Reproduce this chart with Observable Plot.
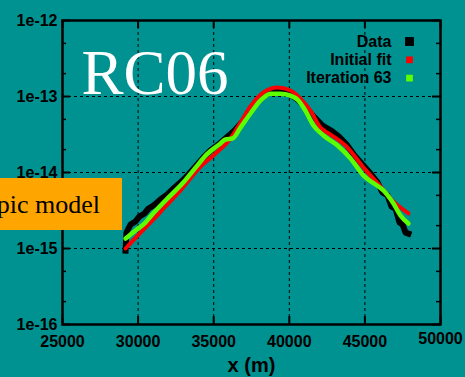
<!DOCTYPE html>
<html>
<head>
<meta charset="utf-8">
<script src="https://cdn.jsdelivr.net/npm/d3@7"></script>
<script src="https://cdn.jsdelivr.net/npm/@observablehq/plot@0.6"></script>
<style>
  html, body { margin: 0; padding: 0; background: #009191; }
</style>
</head>
<body>
<div id="chart"></div>
<script>
// ---- data ----
const dataX = [29170, 29230, 29500, 29830, 30090, 30420, 30690, 31020, 31480, 31940, 32410, 32870, 33330, 33800, 34260, 34790, 35320, 35850, 36380, 36910, 37430, 37960, 38490, 39020, 39550, 40080, 40610, 41140, 41670, 42200, 42730, 43250, 43780, 44310, 44840, 45370, 45830, 46160, 46500, 46760, 47020, 47290, 47490, 47690, 47880];
const dataY = [9.4e-16, 1.62e-15, 2.07e-15, 2.27e-15, 2.64e-15, 2.89e-15, 3.36e-15, 3.68e-15, 4.41e-15, 5.14e-15, 6.35e-15, 7.6e-15, 9.4e-15, 1.2e-14, 1.53e-14, 1.95e-14, 2.34e-14, 2.89e-14, 3.57e-14, 4.69e-14, 6.5e-14, 8.9e-14, 1.09e-13, 1.2e-13, 1.16e-13, 1.06e-13, 8.9e-14, 6.95e-14, 5.3e-14, 4.15e-14, 3.6e-14, 3.0e-14, 2.35e-14, 1.67e-14, 1.27e-14, 9.7e-15, 7.4e-15, 5.46e-15, 4.98e-15, 3.57e-15, 3.36e-15, 2.2e-15, 2.07e-15, 1.62e-15, 1.57e-15];

const fitX = [29170, 30160, 30820, 31810, 32800, 34130, 35120, 36110, 36770, 37430, 38290, 39220, 40080, 40740, 41400, 42060, 42730, 43850, 44910, 46030, 46690, 47880];
const fitY = [1.0e-15, 1.62e-15, 2.2e-15, 3.57e-15, 5.8e-15, 1.2e-14, 1.78e-14, 2.8e-14, 4.55e-14, 7.4e-14, 1.13e-13, 1.31e-13, 1.2e-13, 9.4e-14, 6.5e-14, 3.9e-14, 3.16e-14, 2.13e-14, 1.16e-14, 6.55e-15, 4.55e-15, 2.89e-15];

const iterX = [29170, 29830, 30490, 30820, 31810, 32940, 33800, 34460, 35450, 35780, 36240, 36770, 37430, 38100, 38760, 39420, 40080, 40540, 41070, 41600, 42260, 43190, 44050, 44910, 45700, 46230, 46890, 47350, 47880];
const iterY = [1.35e-15, 1.73e-15, 2.2e-15, 2.64e-15, 4.28e-15, 7.2e-15, 1.16e-14, 1.67e-14, 2.41e-14, 2.72e-14, 2.8e-14, 3.9e-14, 5.98e-14, 8.9e-14, 1.09e-13, 1.09e-13, 1.03e-13, 9.1e-14, 6.5e-14, 4.15e-14, 3.07e-14, 2.27e-14, 1.53e-14, 9.1e-15, 6.95e-15, 5.8e-15, 3.9e-15, 2.72e-15, 2.13e-15];

const xTicks = [25000, 30000, 35000, 40000, 45000, 50000];
const xGrid = [30000, 35000, 40000, 45000];
const yTicks = [1e-16, 1e-15, 1e-14, 1e-13, 1e-12];
const yGrid = [1e-15, 1e-14, 1e-13];
const yMinor = [2e-16, 5e-16, 2e-15, 5e-15, 2e-14, 5e-14, 2e-13, 5e-13];
const legendLabels = ["Data", "Initial fit", "Iteration 63"];
const seriesColors = ["#000000", "#ff0000", "#5cff00"];
const titleText = "RC06";
const xLabel = "x (m)";
const boxText = "pic model";

// ---- layout ----
const W = 465, H = 377;
const mL = 62, mR = 25, mT = 20, mB = 53;
const fw = W - mL - mR, fh = H - mT - mB;
const sans = "'Liberation Sans', Arial, Helvetica, sans-serif";
const serif = "'Liberation Serif', 'Times New Roman', serif";

const toRows = (xs, ys) => xs.map((x, i) => ({x, y: ys[i]}));
const data = toRows(dataX, dataY);
const fit = toRows(fitX, fitY);
const iter = toRows(iterX, iterY);

const legendMarks = legendLabels.flatMap((label, i) => [
  Plot.text([label], {frameAnchor: "top-right", dx: -49, dy: 21 + i * 18.3, textAnchor: "end", lineAnchor: "middle", fontSize: 16, fontWeight: "bold", fill: "black"}),
  Plot.dot([label], {frameAnchor: "top-right", dx: -31, dy: 21 + i * 18.3, symbol: "square", r: i === 0 ? 5 : 3.8, fill: seriesColors[i], stroke: "none"})
]);

const lastX = xTicks[xTicks.length - 1];

const chart = Plot.plot({
  width: W, height: H,
  marginLeft: mL, marginRight: mR, marginTop: mT, marginBottom: mB,
  style: {background: "#009191", fontFamily: sans, fontWeight: "bold", fontSize: "16px", color: "black", overflow: "visible"},
  x: {domain: [25000, 50000]},
  y: {type: "log", domain: [1e-16, 1e-12]},
  marks: [
    Plot.ruleX(xGrid, {stroke: "black", strokeWidth: 1, strokeDasharray: "3,3"}),
    Plot.ruleY(yGrid, {stroke: "black", strokeWidth: 1, strokeDasharray: "3,3"}),
    // inward ticks
    Plot.ruleX(xTicks, {stroke: "black", strokeWidth: 2, insetTop: fh - 8}),
    Plot.ruleX(xTicks, {stroke: "black", strokeWidth: 2, insetBottom: fh - 8}),
    Plot.ruleY(yTicks, {stroke: "black", strokeWidth: 2, insetRight: fw - 8}),
    Plot.ruleY(yTicks, {stroke: "black", strokeWidth: 2, insetLeft: fw - 8}),
    Plot.ruleY(yMinor, {stroke: "black", strokeWidth: 1.5, insetRight: fw - 4}),
    Plot.ruleY(yMinor, {stroke: "black", strokeWidth: 1.5, insetLeft: fw - 4}),
    Plot.axisX({ticks: xTicks.filter(d => d !== lastX), tickSize: 0, tickPadding: 11, tickFormat: d => String(d), label: null, fontSize: 16, fontWeight: "bold"}),
    Plot.axisX({ticks: [lastX], tickSize: 0, tickPadding: 8, tickFormat: d => String(d), label: null, fontSize: 16, fontWeight: "bold"}),
    Plot.axisY({ticks: yTicks, tickSize: 0, tickPadding: 5, tickFormat: d => "1e" + Math.round(Math.log10(d)), label: null, fontSize: 16, fontWeight: "bold"}),
    // series
    Plot.line(data, {x: "x", y: "y", stroke: seriesColors[0], strokeWidth: 6, strokeLinejoin: "round", strokeLinecap: "square"}),
    Plot.line(fit, {x: "x", y: "y", stroke: seriesColors[1], strokeWidth: 4, curve: "monotone-x", strokeLinejoin: "round"}),
    Plot.line(iter, {x: "x", y: "y", stroke: seriesColors[2], strokeWidth: 4.5, curve: "monotone-x", strokeLinejoin: "round"}),
    Plot.frame({stroke: "black", strokeWidth: 2.5}),
    ...legendMarks,
    Plot.text([titleText], {frameAnchor: "top-left", dx: 19, dy: 73, textAnchor: "start", lineAnchor: "bottom", fontFamily: serif, fontSize: 63, fontWeight: "normal", fill: "white"}),
    Plot.text([xLabel], {frameAnchor: "bottom", dy: 41, lineAnchor: "middle", fontSize: 20, fontWeight: "bold", fill: "black"})
  ]
});

document.getElementById("chart").appendChild(chart);

// orange overlay box (annotation), its text cut at the left edge as in the reference
const svg = d3.select(chart);
svg.append("rect").attr("x", 0).attr("y", 178).attr("width", 122).attr("height", 52).attr("fill", "#ffa500");
svg.append("text").attr("x", 100).attr("y", 213).attr("text-anchor", "end")
  .attr("font-family", serif).attr("font-size", 26).attr("font-weight", "normal").attr("fill", "black").text(boxText);
</script>
</body>
</html>
